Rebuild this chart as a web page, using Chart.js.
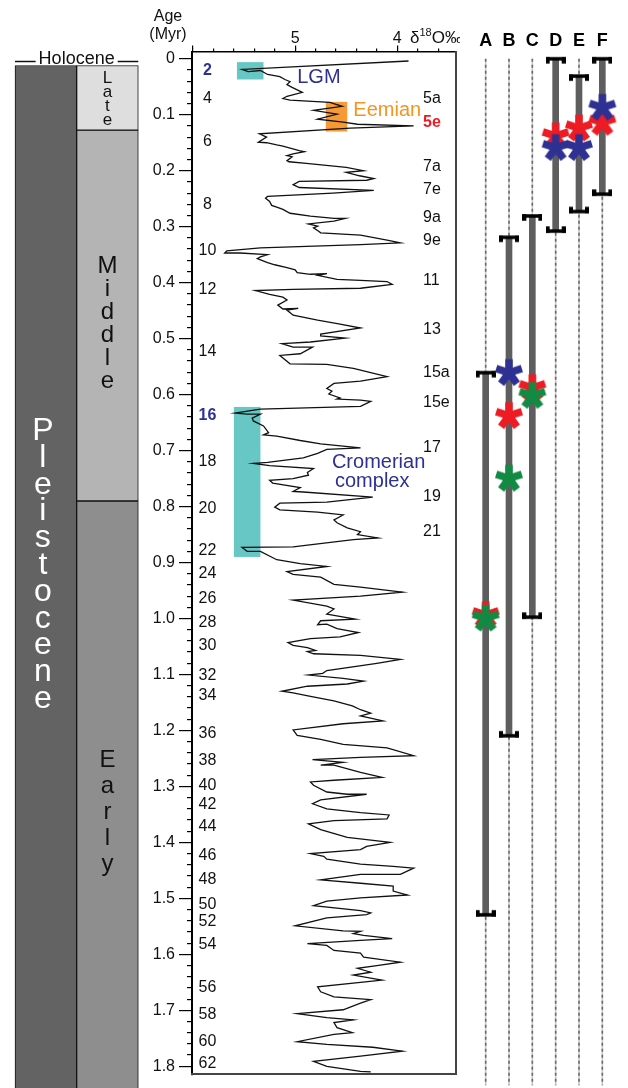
<!DOCTYPE html>
<html><head><meta charset="utf-8">
<script src="https://cdn.jsdelivr.net/npm/chart.js@4.4.1/dist/chart.umd.min.js"></script>
<style>
html,body{margin:0;padding:0;background:#fff;}
#wrap{position:relative;width:628px;height:1088px;overflow:hidden;background:#fff;}
canvas{position:absolute;top:0;}
</style></head><body>
<div id="wrap">
<canvas id="strat" width="145" height="1088" style="left:0px"></canvas>
<canvas id="main" width="360" height="1088" style="left:100px"></canvas>
<canvas id="sites" width="168" height="1088" style="left:460px"></canvas>
</div>
<script>
// ---------------- DATA ----------------
// Benthic δ18O stack (‰), with age (Myr)
const ageMyr = [0.004,0.019,0.023,0.021,0.028,0.032,0.037,0.041,0.046,0.051,
0.060,0.067,0.071,0.074,0.078,0.085,0.092,0.099,0.108,0.113,
0.117,0.120,0.124,0.134,0.140,0.149,0.150,0.154,0.156,0.164,
0.166,0.170,0.173,0.175,0.182,0.184,0.187,0.194,0.200,0.203,
0.209,0.214,0.217,0.219,0.225,0.230,0.235,0.240,0.246,0.249,
0.255,0.262,0.265,0.269,0.276,0.281,0.285,0.285,0.290,0.295,
0.299,0.302,0.308,0.311,0.315,0.324,0.329,0.332,0.338,0.343,
0.347,0.347,0.350,0.354,0.357,0.364,0.368,0.373,0.377,0.382,
0.385,0.384,0.387,0.394,0.396,0.398,0.403,0.410,0.412,0.414,
0.421,0.426,0.431,0.440,0.447,0.446,0.449,0.458,0.467,0.474,
0.481,0.492,0.495,0.499,0.506,0.509,0.515,0.515,0.527,0.530,
0.545,0.546,0.553,0.568,0.576,0.580,0.589,0.594,0.599,0.606,
0.608,0.610,0.612,0.621,0.626,0.633,0.635,0.635,0.642,0.647,
0.656,0.668,0.672,0.674,0.682,0.688,0.695,0.698,0.705,0.713,
0.721,0.723,0.727,0.732,0.739,0.744,0.750,0.753,0.758,0.766,
0.773,0.774,0.783,0.792,0.794,0.801,0.806,0.810,0.815,0.824,
0.829,0.838,0.845,0.850,0.856,0.859,0.872,0.873,0.880,0.880,
0.895,0.902,0.907,0.916,0.921,0.926,0.939,0.944,0.953,0.960,
0.967,0.978,0.983,0.992,1.001,1.004,1.011,1.010,1.018,1.025,
1.033,1.036,1.043,1.048,1.052,1.057,1.059,1.063,1.066,1.073,
1.080,1.093,1.098,1.101,1.107,1.112,1.117,1.121,1.130,1.133,
1.139,1.147,1.156,1.163,1.169,1.174,1.183,1.188,1.199,1.209,
1.216,1.225,1.231,1.245,1.248,1.252,1.257,1.262,1.262,1.275,
1.284,1.289,1.292,1.298,1.310,1.314,1.314,1.324,1.331,1.340,
1.347,1.351,1.358,1.361,1.367,1.377,1.391,1.395,1.400,1.407,
1.413,1.420,1.425,1.430,1.439,1.443,1.446,1.457,1.457,1.467,
1.473,1.478,1.487,1.494,1.499,1.505,1.513,1.522,1.526,1.529,
1.535,1.549,1.558,1.559,1.563,1.566,1.572,1.575,1.581,1.584,
1.593,1.598,1.605,1.614,1.620,1.625,1.632,1.637,1.646,1.650,
1.658,1.667,1.676,1.681,1.687,1.699,1.706,1.713,1.717,1.722,
1.731,1.740,1.743,1.756,1.761,1.766,1.773,1.782,1.791,1.800,
1.809,1.810];
const d18O = [3.89,5.52,5.46,5.34,5.27,5.15,5.10,5.05,5.08,5.03,
4.93,5.08,5.12,5.05,4.66,4.54,4.82,4.59,4.78,4.53,
4.39,3.84,4.46,5.35,5.28,5.36,5.28,5.18,5.12,4.96,
4.91,5.02,5.08,5.03,5.08,5.06,4.89,4.50,4.33,4.50,
4.37,4.23,4.30,4.96,5.02,4.96,4.23,4.63,5.27,5.29,
5.25,5.23,5.18,5.12,5.05,4.85,4.62,4.51,4.62,4.87,
4.78,4.82,4.77,4.75,4.36,4.10,3.97,4.36,5.34,5.67,
5.69,5.54,5.27,5.34,5.37,5.27,5.20,5.08,5.00,4.98,
4.85,4.69,4.78,4.59,4.36,4.10,4.05,4.36,5.02,5.39,
5.25,5.12,5.08,5.17,5.12,4.97,5.08,5.02,4.78,4.56,
4.36,4.75,4.75,4.51,4.85,5.13,5.02,4.83,4.95,5.15,
5.05,4.69,4.43,4.10,4.36,4.62,4.69,4.64,4.67,4.56,
4.59,4.36,4.26,4.36,5.34,5.59,5.47,5.34,5.42,5.41,
5.31,5.26,5.31,5.18,4.95,4.75,4.36,4.69,4.78,4.92,
5.27,5.41,5.25,4.82,4.88,4.87,5.02,5.25,5.22,4.95,
5.02,4.92,4.24,4.69,5.15,5.20,5.15,4.78,4.53,4.62,
4.59,4.49,4.36,4.39,4.19,4.43,5.02,5.52,5.47,5.34,
5.18,4.95,4.69,5.08,5.02,4.75,4.62,4.36,3.95,4.36,
5.02,4.69,4.62,4.69,4.41,4.75,4.78,4.69,4.59,4.38,
4.56,4.85,5.07,5.02,4.88,4.80,4.88,4.82,4.36,3.97,
4.20,4.69,4.73,4.87,4.53,4.33,4.49,4.88,5.13,5.02,
4.85,4.62,4.44,4.36,4.26,4.36,4.14,4.53,5.02,4.98,
4.75,4.53,4.10,3.84,4.36,4.83,4.53,4.75,4.62,4.36,
4.15,4.62,4.85,4.82,4.69,4.49,4.30,4.75,4.83,4.69,
4.36,4.08,4.10,4.62,4.87,4.75,4.49,4.30,4.07,4.30,
4.36,4.85,4.72,4.69,4.36,4.04,3.84,3.97,4.36,4.75,
4.36,4.04,4.04,3.90,4.36,4.69,4.82,4.36,4.26,4.30,
4.69,5.00,4.53,4.36,4.43,4.33,4.05,4.36,4.88,4.69,
4.62,4.36,4.33,3.97,4.20,4.39,4.26,4.43,4.15,4.36,
4.78,4.75,4.62,4.26,4.36,4.53,4.98,4.69,4.43,4.62,
4.59,4.44,4.62,4.98,4.69,4.24,3.95,4.36,4.82,4.69,
4.36,4.26];

// Marine isotope stage labels (glacial, left) and (interglacial, right)
const misLeftLabels = ['2','4','6','8','10','12','14','16','18','20','22','24','26','28','30','32','34','36','38','40','42','44','46','48','50','52','54','56','58','60','62'];
const misLeftAges = [0.022,0.071,0.148,0.260,0.343,0.413,0.523,0.638,0.720,0.803,0.879,0.919,0.964,1.008,1.049,1.102,1.138,1.206,1.253,1.299,1.332,1.371,1.424,1.467,1.511,1.542,1.583,1.660,1.707,1.756,1.795];
const misRightLabels = ['5a','5e','7a','7e','9a','9e','11','13','15a','15e','17','19','21'];
const misRightAges = [0.072,0.114,0.192,0.233,0.283,0.325,0.396,0.483,0.561,0.615,0.694,0.782,0.844];

// Highlighted intervals: [δ18O from, to], [age from, to]
const boxNames = ['LGM','Eemian','Cromerian'];
const boxD18O = [[5.57,5.31],[4.70,4.49],[5.60,5.34]];
const boxAges = [[0.006,0.037],[0.077,0.130],[0.622,0.890]];

// Geological time scale (Myr)
const stageNames = ['Late','Middle','Early'];
const stageStart = [0.0117,0.126,0.781];
const stageEnd = [0.126,0.781,2.58];
const epochName = 'Pleistocene';
const epochStart = 0.0117, epochEnd = 2.58;

// Sites A–F: age ranges and dated horizons
const siteLabels = ['A','B','C','D','E','F'];
const siteStart = [0.561,0.319,0.281,0.000,0.031,0.000];
const siteEnd = [1.530,1.210,0.998,0.308,0.273,0.242];
const redSites = ['A','B','C','D','E','F'];
const redAges = [0.994,0.638,0.588,0.138,0.124,0.114];
const blueSites = ['B','D','E','F'];
const blueAges = [0.561,0.159,0.159,0.087];
const greenSites = ['A','B','C'];
const greenAges = [1.000,0.750,0.602];

// Axis ranges
const Y_MIN = -0.013, Y_MAX = 1.8145;
const X_MIN = 3.43, X_MAX = 6.01;

// ---------------- STYLE ----------------
const FONT = '"Liberation Sans", Arial, Helvetica, sans-serif';
Chart.defaults.font.family = FONT;
const AREA_TOP = 51.5;
const BLUE = '#2e3192', RED = '#ed1c24', GREEN = '#138a43', ORANGE = '#f7941d';
const BOX_COLORS = {LGM:'#66c7c5', Eemian:'#f59a35', Cromerian:'#66c7c5'};
const STAGE_COLORS = {Late:'#dedede', Middle:'#b4b4b4', Early:'#8e8e8e'};

// ---------------- STRATIGRAPHIC COLUMN ----------------
function stack(ctx, text, x, firstBase, step) {
  for (let i = 0; i < text.length; i++) ctx.fillText(text[i], x, firstBase + i * step);
}
const stratDecor = {
  id: 'stratDecor',
  afterDatasetsDraw(chart) {
    const {ctx, chartArea: ca, scales: {x}} = chart;
    ctx.save();
    const cx = (ca.left + ca.right) / 2;
    ctx.font = '18px ' + FONT; ctx.fillStyle = '#111'; ctx.textAlign = 'center'; ctx.textBaseline = 'alphabetic';
    ctx.fillText('Holocene', cx, 63.5);
    const w = ctx.measureText('Holocene').width;
    ctx.strokeStyle = '#111'; ctx.lineWidth = 1.3;
    ctx.beginPath();
    ctx.moveTo(ca.left, 61.5); ctx.lineTo(cx - w / 2 - 3, 61.5);
    ctx.moveTo(cx + w / 2 + 3, 61.5); ctx.lineTo(ca.right, 61.5);
    ctx.stroke();
    const ex = x.getPixelForValue(0) - 3, sx = x.getPixelForValue(1);
    ctx.fillStyle = '#fff'; ctx.font = '32px ' + FONT;
    stack(ctx, epochName, ex, 440, 26.8);
    ctx.fillStyle = '#111';
    ctx.font = '17px ' + FONT; stack(ctx, 'Late', sx, 83, 14);
    ctx.font = '24px ' + FONT; stack(ctx, 'Middle', sx, 273, 23);
    ctx.font = '24px ' + FONT; stack(ctx, 'Early', sx, 767, 26);
    ctx.restore();
  }
};
const stratDatasets = [{
  label: epochName, data: [[epochStart, epochEnd], null], backgroundColor: '#636363',
  borderColor: '#111', borderWidth: 1, borderSkipped: false, grouped: false,
  barPercentage: 1, categoryPercentage: 1, clip: false
}];
stageNames.forEach((n, i) => stratDatasets.push({
  label: n, data: [null, [stageStart[i], stageEnd[i]]], backgroundColor: STAGE_COLORS[n],
  borderColor: '#111', borderWidth: 1, borderSkipped: false, grouped: false,
  barPercentage: 1, categoryPercentage: 1, clip: false
}));
new Chart(document.getElementById('strat'), {
  type: 'bar',
  data: {labels: ['epoch', 'stage'], datasets: stratDatasets},
  options: {
    responsive: false, animation: false, events: [],
    layout: {padding: {left: 15, right: 6.7, top: AREA_TOP, bottom: 2}},
    plugins: {legend: {display: false}, tooltip: {enabled: false}},
    scales: {
      x: {display: false},
      y: {display: false, reverse: true, min: Y_MIN, max: Y_MAX}
    }
  },
  plugins: [stratDecor]
});

// ---------------- MAIN δ18O CURVE ----------------
const mainDecor = {
  id: 'mainDecor',
  beforeDatasetsDraw(chart) {
    const {ctx, scales: {x, y}} = chart;
    ctx.save();
    boxNames.forEach((n, i) => {
      const x1 = x.getPixelForValue(boxD18O[i][0]), x2 = x.getPixelForValue(boxD18O[i][1]);
      const y1 = y.getPixelForValue(boxAges[i][0]), y2 = y.getPixelForValue(boxAges[i][1]);
      ctx.fillStyle = BOX_COLORS[n];
      ctx.fillRect(Math.min(x1, x2), Math.min(y1, y2), Math.abs(x2 - x1), Math.abs(y2 - y1));
    });
    ctx.restore();
  },
  afterDatasetsDraw(chart) {
    const {ctx, chartArea: ca, scales: {x, y}} = chart;
    ctx.save();
    ctx.textBaseline = 'middle';
    ctx.textAlign = 'center';
    misLeftLabels.forEach((t, i) => {
      const special = (t === '2' || t === '16');
      ctx.font = (special ? 'bold ' : '') + '16px ' + FONT;
      ctx.fillStyle = special ? BLUE : '#111';
      ctx.fillText(t, ca.left + 15.5, y.getPixelForValue(misLeftAges[i]));
    });
    ctx.textAlign = 'left';
    misRightLabels.forEach((t, i) => {
      const special = (t === '5e');
      ctx.font = (special ? 'bold ' : '') + '16px ' + FONT;
      ctx.fillStyle = special ? RED : '#111';
      ctx.fillText(t, ca.right - 32.5, y.getPixelForValue(misRightAges[i]));
    });
    ctx.font = '20px ' + FONT;
    ctx.fillStyle = BLUE;
    ctx.fillText('LGM', x.getPixelForValue(4.98), y.getPixelForValue(0.033));
    ctx.fillText('Cromerian', x.getPixelForValue(4.64), y.getPixelForValue(0.721));
    ctx.fillText('complex', x.getPixelForValue(4.61), y.getPixelForValue(0.756));
    ctx.fillStyle = ORANGE;
    ctx.fillText('Eemian', x.getPixelForValue(4.43), y.getPixelForValue(0.093));
    ctx.restore();
  },
  afterDraw(chart) {
    const {ctx} = chart;
    ctx.save();
    ctx.fillStyle = '#111';
    ctx.textAlign = 'center'; ctx.textBaseline = 'middle';
    ctx.font = '16px ' + FONT;
    ctx.fillText('Age', 68, 17);
    ctx.fillText('(Myr)', 68, 35);
    ctx.textAlign = 'left'; ctx.textBaseline = 'alphabetic';
    let px = 310;
    ctx.font = '17px ' + FONT; ctx.fillText('δ', px, 43); px += ctx.measureText('δ').width;
    ctx.font = '11px ' + FONT; ctx.fillText('18', px, 36); px += ctx.measureText('18').width;
    ctx.font = '17px ' + FONT; ctx.fillText('O‰', px, 43);
    ctx.restore();
  }
};
new Chart(document.getElementById('main'), {
  type: 'scatter',
  data: {datasets: [{
    data: ageMyr.map((a, i) => ({x: d18O[i], y: a})),
    showLine: true, borderColor: '#111', borderWidth: 1.3, pointRadius: 0, tension: 0,
    xAxisID: 'x', yAxisID: 'y'
  }]},
  options: {
    responsive: false, animation: false, events: [],
    layout: {padding: {left: 0, right: 4.5, top: 0, bottom: 2}},
    plugins: {legend: {display: false}, tooltip: {enabled: false}},
    scales: {
      x: {type: 'linear', position: 'top', reverse: true, min: X_MIN, max: X_MAX, weight: 0,
        ticks: {display: false, stepSize: 0.2, includeBounds: false},
        grid: {drawOnChartArea: false, tickLength: 3, color: '#000', lineWidth: 1.2},
        border: {display: true, color: '#000', width: 1.6},
        afterFit(s) { s.height = 3; }},
      xMaj: {type: 'linear', position: 'top', reverse: true, min: X_MIN, max: X_MAX, weight: 1,
        ticks: {stepSize: 1, includeBounds: false, font: {family: FONT, size: 16}, color: '#111', padding: -3, maxRotation: 0,
          callback(v) { return (Math.abs(v - 4) < 1e-6 || Math.abs(v - 5) < 1e-6) ? String(Math.round(v)) : ''; }},
        grid: {drawOnChartArea: false, tickLength: 3, color: '#000', lineWidth: 1.2},
        border: {display: false},
        afterFit(s) { s.height = AREA_TOP - 3; }},
      y: {type: 'linear', position: 'left', reverse: true, min: Y_MIN, max: Y_MAX, weight: 0,
        ticks: {display: false, stepSize: 0.02, includeBounds: false},
        grid: {drawOnChartArea: false, tickLength: 5, color: '#000', lineWidth: 1.2},
        border: {display: true, color: '#000', width: 2},
        afterFit(s) { s.width = 5; }},
      yMaj: {type: 'linear', position: 'left', reverse: true, min: Y_MIN, max: Y_MAX, weight: 1,
        ticks: {stepSize: 0.1, includeBounds: false, font: {family: FONT, size: 16}, color: '#111', padding: 4,
          callback(v) { const r = Math.round(v * 10); return r === 0 ? '0' : (r / 10).toFixed(1); }},
        grid: {drawOnChartArea: false, tickLength: 8, color: '#000', lineWidth: 1.2},
        border: {display: false},
        afterFit(s) { s.width = 87; }},
      yR: {type: 'linear', position: 'right', min: 0, max: 1,
        ticks: {display: false}, grid: {drawOnChartArea: false, drawTicks: false},
        border: {display: true, color: '#444', width: 2},
        afterFit(s) { s.width = 0; }},
      xB: {type: 'linear', position: 'bottom', min: 0, max: 1,
        ticks: {display: false}, grid: {drawOnChartArea: false, drawTicks: false},
        border: {display: true, color: '#444', width: 2},
        afterFit(s) { s.height = 0; }}
    }
  },
  plugins: [mainDecor]
});

// ---------------- SITES A–F ----------------
function makeStar(color) {
  const c = document.createElement('canvas'); c.width = 30; c.height = 30;
  const g = c.getContext('2d'); g.strokeStyle = color; g.lineWidth = 7.5; g.lineCap = 'butt';
  for (let k = 0; k < 5; k++) {
    const a = (-90 + 72 * k) * Math.PI / 180;
    g.beginPath(); g.moveTo(15, 15); g.lineTo(15 + 13.5 * Math.cos(a), 15 + 13.5 * Math.sin(a)); g.stroke();
  }
  return c;
}
function makeCap(top) {
  const c = document.createElement('canvas'); c.width = 20; c.height = 14;
  const g = c.getContext('2d'); g.fillStyle = '#000';
  g.fillRect(0, 5.25, 20, 3.5);
  if (top) { g.fillRect(0, 5.25, 4, 6.5); g.fillRect(16, 5.25, 4, 6.5); }
  else { g.fillRect(0, 2.25, 4, 6.5); g.fillRect(16, 2.25, 4, 6.5); }
  return c;
}
const siteDatasets = [];
siteLabels.forEach(s => {
  const pts = [{x: s, y: 0}, {x: s, y: Y_MAX + 0.02}];
  siteDatasets.push({type: 'line', data: pts, borderColor: '#c8c8c8', borderWidth: 1.6, pointRadius: 0, order: 7, clip: false});
  siteDatasets.push({type: 'line', data: pts, borderColor: '#6a6a6a', borderWidth: 1.6, borderDash: [3, 3], pointRadius: 0, order: 6, clip: false});
});
siteDatasets.push({type: 'bar', data: siteStart.map((v, i) => [v, siteEnd[i]]), backgroundColor: '#5e5e5e',
  barThickness: 6, order: 5, clip: false});
siteDatasets.push({type: 'scatter', data: siteLabels.map((s, i) => ({x: s, y: siteStart[i]})),
  pointStyle: makeCap(true), pointRadius: 8, order: 4, clip: false});
siteDatasets.push({type: 'scatter', data: siteLabels.map((s, i) => ({x: s, y: siteEnd[i]})),
  pointStyle: makeCap(false), pointRadius: 8, order: 4, clip: false});
siteDatasets.push({type: 'scatter', data: redSites.map((s, i) => ({x: s, y: redAges[i]})),
  pointStyle: makeStar(RED), pointRadius: 13, order: 3, clip: false});
siteDatasets.push({type: 'scatter', data: blueSites.map((s, i) => ({x: s, y: blueAges[i]})),
  pointStyle: makeStar(BLUE), pointRadius: 13, order: 2, clip: false});
siteDatasets.push({type: 'scatter', data: greenSites.map((s, i) => ({x: s, y: greenAges[i]})),
  pointStyle: makeStar(GREEN), pointRadius: 13, order: 1, clip: false});

new Chart(document.getElementById('sites'), {
  type: 'bar',
  data: {labels: siteLabels, datasets: siteDatasets},
  options: {
    responsive: false, animation: false, events: [],
    layout: {padding: {left: 7.7, right: 0.7, top: 0, bottom: 2}},
    plugins: {legend: {display: false}, tooltip: {enabled: false}},
    scales: {
      x: {type: 'category', position: 'top', grid: {display: false}, border: {display: false},
        ticks: {font: {family: FONT, size: 18, weight: 'bold'}, color: '#000', padding: -8, maxRotation: 0, autoSkip: false},
        afterFit(s) { s.height = AREA_TOP; }},
      y: {type: 'linear', display: false, reverse: true, min: Y_MIN, max: Y_MAX}
    }
  }
});
</script>
</body></html>
